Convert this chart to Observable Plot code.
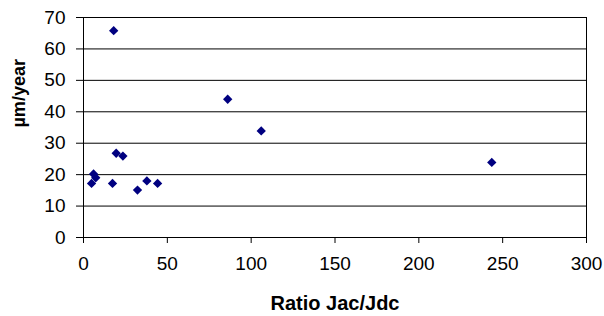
<!DOCTYPE html>
<html>
<head>
<meta charset="utf-8">
<script src="https://cdn.jsdelivr.net/npm/d3@7"></script>
<script src="https://cdn.jsdelivr.net/npm/@observablehq/plot@0.6"></script>
<style>
  html, body { margin: 0; padding: 0; background: #fff; }
  #chart svg { display: block; }
</style>
</head>
<body>
<div id="chart"></div>
<script>
const ratio = [18, 86, 106, 243.5, 19.5, 23.5, 6, 7.3, 4.8, 17.3, 32.2, 37.8, 44.2];
const rate  = [65.8, 44, 33.9, 23.9, 26.8, 25.9, 20.2, 19, 17.2, 17.2, 15.1, 18, 17.2];
const xTicks = [0, 50, 100, 150, 200, 250, 300];
const yTicks = [0, 10, 20, 30, 40, 50, 60, 70];
const xTitle = "Ratio Jac/Jdc";
const yTitle = "µm/year";

const data = ratio.map((x, i) => ({x, y: rate[i]}));

const chart = Plot.plot({
  width: 604,
  height: 316,
  marginLeft: 83,
  marginRight: 18,
  marginTop: 17,
  marginBottom: 79,
  style: {fontFamily: "'Liberation Sans', Arial, sans-serif", background: "#fff", overflow: "visible"},
  x: {domain: [0, 300]},
  y: {domain: [0, 70]},
  marks: [
    Plot.ruleY(yTicks, {stroke: "#000", strokeWidth: 1}),
    Plot.frame({stroke: "#000", strokeWidth: 1}),
    Plot.axisY({ticks: yTicks, tickSize: 7, tickPadding: 11, fontSize: 19, label: null, stroke: "#000"}),
    Plot.axisX({ticks: xTicks, tickSize: 6, tickPadding: 13, fontSize: 19, label: null, stroke: "#000"}),
    Plot.dot(data, {x: "x", y: "y", symbol: "diamond2", r: 4.2, fill: "#000080", stroke: "none"}),
    Plot.text([xTitle], {frameAnchor: "bottom", dy: 72, fontSize: 20, fontWeight: "bold", fill: "#000", lineAnchor: "bottom"}),
    Plot.text([yTitle], {frameAnchor: "left", dx: -64, rotate: -90, fontSize: 18, fontWeight: "bold", fill: "#000"})
  ]
});
document.getElementById("chart").appendChild(chart);
</script>
</body>
</html>
